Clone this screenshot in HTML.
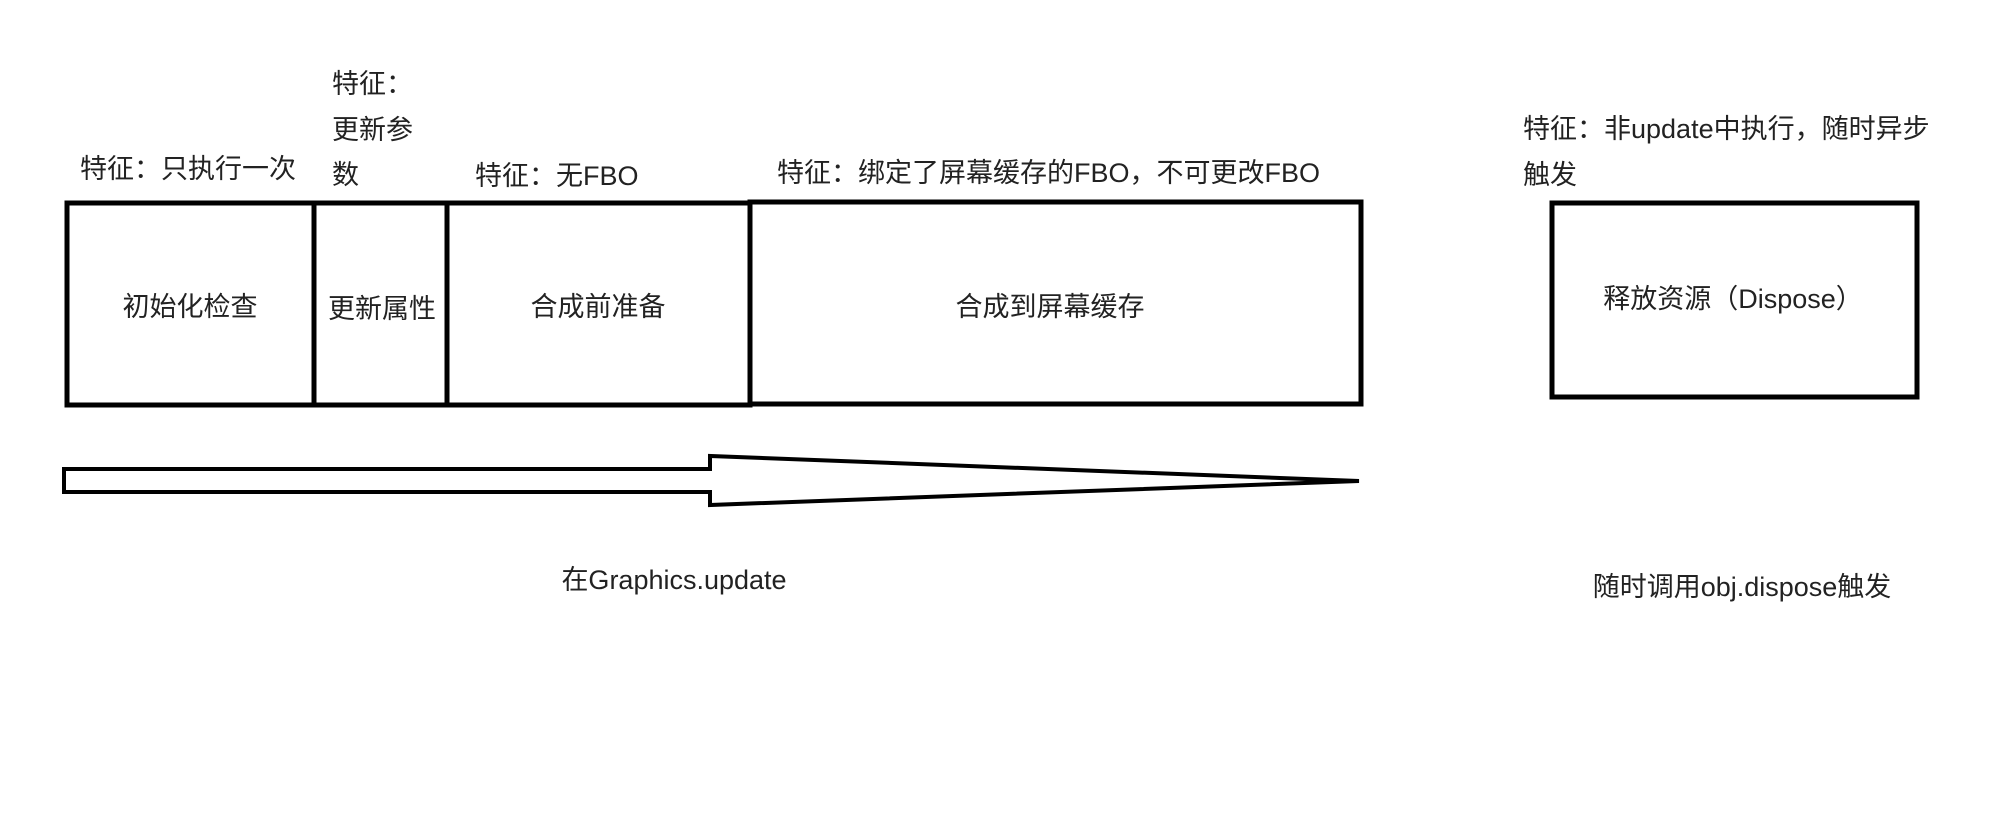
<!DOCTYPE html>
<html><head><meta charset="utf-8"><style>
html,body{margin:0;padding:0;background:#fff;}
body{width:1995px;height:836px;position:relative;overflow:hidden;font-family:"Liberation Sans","Noto Sans CJK SC",sans-serif;color:#222;}
.t{position:absolute;font-size:27px;line-height:30px;white-space:nowrap;transform:translateY(-50%);}
.c{position:absolute;font-size:27px;line-height:30px;white-space:nowrap;transform:translate(-50%,-50%);}
svg{position:absolute;left:0;top:0;}
</style></head><body>
<svg width="1995" height="836">
<g fill="none" stroke="#000" stroke-width="5">
<rect x="67" y="203" width="247" height="202"/>
<rect x="314" y="203" width="133" height="202"/>
<rect x="447" y="203" width="303" height="202"/>
<rect x="750" y="202" width="611" height="202"/>
<rect x="1552" y="203" width="365" height="194"/>
<polygon points="64,469 710,469 710,456 1359,481 710,505 710,492 64,492" stroke-width="4" stroke-linejoin="miter"/>
</g>
</svg>
<div class="t" style="left:80px;top:169px">特征：只执行一次</div>
<div class="t" style="left:332px;top:84px">特征：</div>
<div class="t" style="left:332px;top:130px">更新参</div>
<div class="t" style="left:332px;top:175px">数</div>
<div class="t" style="left:475px;top:176px">特征：无FBO</div>
<div class="t" style="left:777px;top:173px">特征：绑定了屏幕缓存的FBO，不可更改FBO</div>
<div class="t" style="left:1523px;top:129px">特征：非update中执行，随时异步</div>
<div class="t" style="left:1523px;top:175px">触发</div>
<div class="c" style="left:190px;top:307px">初始化检查</div>
<div class="c" style="left:382px;top:309px">更新属性</div>
<div class="c" style="left:598px;top:307px">合成前准备</div>
<div class="c" style="left:1050px;top:307px">合成到屏幕缓存</div>
<div class="c" style="left:1733px;top:299px">释放资源（Dispose）</div>
<div class="c" style="left:674px;top:580px">在Graphics.update</div>
<div class="c" style="left:1742px;top:587px">随时调用obj.dispose触发</div>
</body></html>
